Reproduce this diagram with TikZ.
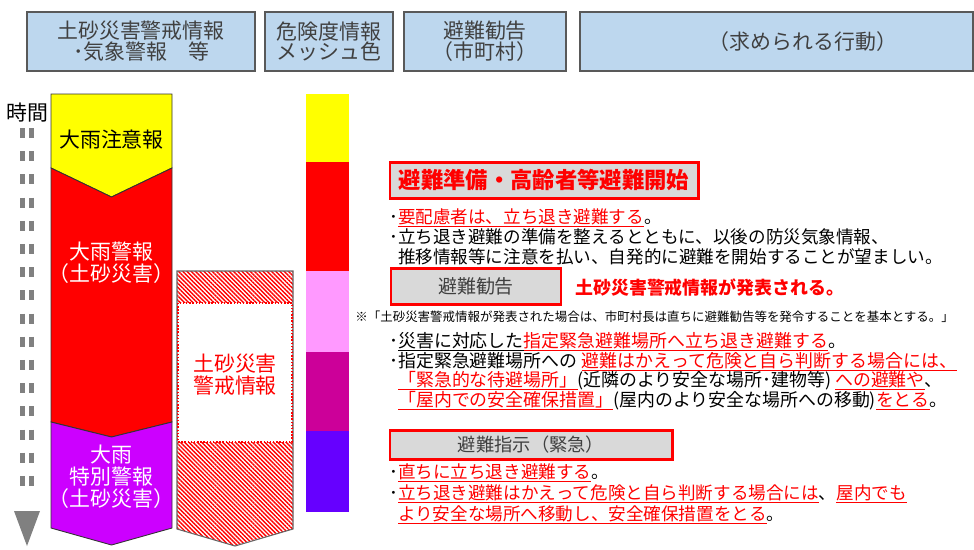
\documentclass[tikz,border=0pt]{standalone}
\usepackage{fontspec}
\setmainfont{Noto Sans CJK JP}
\usetikzlibrary{patterns.meta}

\definecolor{headblue}{HTML}{BDD7EE}
\definecolor{headline}{HTML}{595959}
\definecolor{headtext}{HTML}{404040}
\definecolor{boxgray}{HTML}{D9D9D9}
\definecolor{alertred}{HTML}{FF0000}
\definecolor{warnyellow}{HTML}{FFFF00}
\definecolor{warnpurple}{HTML}{CC00FF}
\definecolor{meshpink}{HTML}{FF99FF}
\definecolor{meshmagenta}{HTML}{CC0099}
\definecolor{meshviolet}{HTML}{6600FF}
\definecolor{axisgray}{HTML}{808080}

% underline drawn just below the glyphs
\newbox\ulinebox
\newcommand{\blkul}[1]{\leavevmode\setbox\ulinebox=\hbox{#1}%
  \rlap{\rule[-0.2em]{\wd\ulinebox}{0.5pt}}\box\ulinebox}
\newcommand{\redul}[1]{\textcolor{alertred}{\blkul{#1}}}
\def\px{0.02cm}

\begin{document}
\begin{tikzpicture}[
  x=0.02cm, y=-0.02cm,
  font=\fontsize{10}{11.3}\selectfont,
  head/.style={draw=headline,fill=headblue,line width=0.7pt,inner sep=0pt,align=center,
    text=headtext,font=\fontsize{11.9}{11.9}\selectfont},
  col/.style={draw=black!80,line width=0.5pt},
  coltxt/.style={align=center,inner sep=0pt,font=\fontsize{11.9}{12.5}\selectfont},
  alertbox/.style={draw=alertred,fill=boxgray,line width=1.7pt,inner sep=0pt},
  actxt/.style={anchor=west,align=left,inner sep=0pt},
  tdash/.style={axisgray,line width=2.8pt,dash pattern=on 5.7pt off 7.5pt},
]
\useasboundingbox (0,0) rectangle (974,549);

% ========================= header row =========================
\node[head,minimum width=228*\px,minimum height=59*\px] (hwarn) at (141,41.5)
  {土砂災害警戒情報\\･気象警報　等};
\node[head,minimum width=128*\px,minimum height=59*\px] (hmesh) at (329,41.5)
  {危険度情報\\メッシュ色};
\node[head,minimum width=162*\px,minimum height=59*\px] (hadvice) at (485,41.5)
  {避難勧告\\（市町村）};
\node[head,minimum width=393*\px,minimum height=59*\px] (haction) at (776.5,41.5) {};
\node[text=headtext,inner sep=0pt,font=\fontsize{11.9}{11.9}\selectfont] (hactlbl) at (803,42)
  {（求められる行動）};

% ---- time axis ----
\node[inner sep=0pt,font=\fontsize{11.9}{12}\selectfont] (tlbl) at (27,113) {時間};
\coordinate (tstart) at (27,128);
\coordinate (tend) at (27,495);
\coordinate (ttip) at (27,546);
\draw[tdash] ([xshift=-4.5*\px]tstart) -- ([xshift=-4.5*\px]tend);
\draw[tdash] ([xshift=4.5*\px]tstart) -- ([xshift=4.5*\px]tend);
\fill[axisgray] (ttip) -- ++(-13,-35) -- ++(26,0) -- cycle;

% ========================= warning column =========================
\filldraw[col,fill=warnyellow] (51,94) -- (172,94) -- (172,168) -- (111.5,197) -- (51,168) -- cycle;
\filldraw[col,fill=alertred] (51,168) -- (111.5,197) -- (172,168) -- (172,422) -- (111.5,437) -- (51,422) -- cycle;
\filldraw[col,fill=warnpurple] (51,422) -- (111.5,437) -- (172,422) -- (172,528) -- (111.5,545) -- (51,528) -- cycle;

\node[coltxt] (advisory) at (111.5,140) {大雨注意報};
\node[coltxt,text=white] (warning) at (111.5,263) {大雨警報\\（土砂災害）};
\node[coltxt,text=white] (emergency) at (111.5,477) {大雨\\特別警報\\（土砂災害）};

% ---- sediment disaster column ----
\path[pattern={Lines[angle=-45,distance=1.7pt,line width=0.8pt]},pattern color=alertred,
  draw=black!60,line width=0.6pt]
  (177,271) -- (293,271) -- (293,529) -- (235,546) -- (177,529) -- cycle;
\fill[white] (178,303) rectangle (292,442);
\draw[alertred,densely dotted,line width=0.8pt] (178,303) rectangle (292,442);
\node[coltxt,text=alertred] (sedwarn) at (235,375) {土砂災害\\警戒情報};

% ---- mesh colour bar ----
\foreach \ya/\yb/\c in {94/162/warnyellow,162/271/alertred,271/352/meshpink,352/431/meshmagenta,431/512/meshviolet}{
  \fill[\c] (306,\ya) rectangle (349,\yb);
}

% ========================= required actions =========================
\node[alertbox,minimum width=308*\px,minimum height=36*\px,text=alertred,
  font=\bfseries\fontsize{12.7}{13}\selectfont] (prep) at (544,180) {避難準備・高齢者等避難開始};
\node[actxt] (prepact) at (389,237)
  {･\redul{要配慮者は、立ち退き避難する}。\\･立ち退き避難の準備を整えるとともに、以後の防災気象情報、\\\phantom{･}推移情報等に注意を払い、自発的に避難を開始することが望ましい。};

\node[alertbox,minimum width=170*\px,minimum height=36*\px,text=headtext,
  font=\fontsize{10.8}{11}\selectfont] (advice) at (476,286) {避難勧告};
\node[anchor=west,inner sep=0pt,text=alertred,font=\bfseries\fontsize{10.2}{11}\selectfont] (issued)
  at (575,288) {土砂災害警戒情報が発表される。};
\node[anchor=west,inner sep=0pt,font=\fontsize{7.1}{8}\selectfont] (note) at (355,317)
  {※「土砂災害警戒情報が発表された場合は、市町村長は直ちに避難勧告等を発令することを基本とする。」};
\node[actxt,font=\fontsize{10.2}{11.1}\selectfont] (adviceact) at (389,371)
  {･\blkul{災害に対応した}\redul{指定緊急避難場所へ立ち退き避難する}。\\･指定緊急避難場所への \redul{避難はかえって危険と自ら判断する場合には、}\\\phantom{･}\redul{「緊急的な待避場所」}(近隣のより安全な場所･建物等) \redul{への避難や}、\\\phantom{･}\redul{「屋内での安全確保措置」}(屋内のより安全な場所への移動)\redul{をとる}。};

\node[alertbox,minimum width=282*\px,minimum height=29*\px,text=headtext,
  font=\fontsize{10.4}{11}\selectfont] (order) at (531,444.5) {避難指示（緊急）};
\node[actxt,font=\fontsize{10}{11.9}\selectfont] (orderact) at (389,494)
  {･\redul{直ちに立ち退き避難する}。\\･\redul{立ち退き避難はかえって危険と自ら判断する場合には}、\redul{屋内でも}\\\phantom{･}\redul{より安全な場所へ移動し、安全確保措置をとる}。};

\end{tikzpicture}
\end{document}
